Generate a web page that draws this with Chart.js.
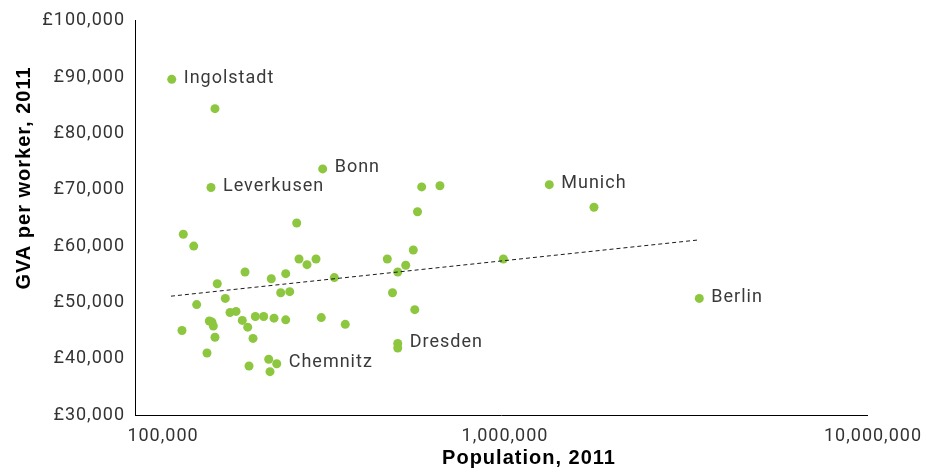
<!DOCTYPE html>
<html>
<head>
<meta charset="utf-8">
<script src="https://cdn.jsdelivr.net/npm/chart.js@4/dist/chart.umd.min.js"></script>
<style>
  html, body { margin: 0; padding: 0; background: #ffffff; }
  #wrap { width: 926px; height: 475px; }
</style>
</head>
<body>
<div id="wrap"><canvas id="chart" width="926" height="475"></canvas></div>
<script>
// German cities, 2011: population against gross value added per worker
const cityNames = [
  'Ingolstadt', '', 'Bonn', 'Leverkusen', '', '', 'Munich', '', '', '',
  '', '', '', '', '', '', '', '', '', '',
  '', '', '', '', '', '', '', '', '', '',
  '', 'Berlin', '', '', '', '', '', '', '', '',
  '', '', '', '', '', '', '', '', 'Dresden', '',
  '', '', 'Chemnitz', '', ''
];
const population = [
  126000, 165400, 325700, 161300, 607100, 681000, 1355000, 1795000, 591400, 276600,
  135500, 144700, 575900, 489000, 549100, 280600, 295100, 312300, 199800, 235700,
  258100, 350400, 522200, 1015000, 167800, 250100, 264700, 505300, 176500, 147400,
  581300, 3482000, 181800, 188800, 213200, 224700, 239800, 258100, 322800, 375400,
  196400, 203200, 159600, 162300, 163700, 134400, 165400, 210100, 522200, 522200,
  157300, 231900, 243900, 204900, 233800
];
const gvaPerWorker = [
  89600, 84400, 73700, 70400, 70500, 70700, 70900, 66900, 66100, 64100,
  62100, 60000, 59300, 57700, 56600, 57700, 56700, 57700, 55400, 54200,
  55100, 54400, 55400, 57700, 53300, 51700, 51900, 51700, 50700, 49600,
  48700, 50700, 48200, 48400, 47500, 47500, 47200, 46900, 47300, 46100,
  46800, 45600, 46700, 46500, 45800, 45000, 43800, 43600, 42700, 41900,
  41000, 39900, 39100, 38700, 37700
];
// Logarithmic trend line, drawn between its two end points
const trendPopulation = [125400, 3480000];
const trendGva = [51100, 61100];
// Axis ticks
const xTickValues = [100000, 1000000, 10000000];
const yTickValues = [30000, 40000, 50000, 60000, 70000, 80000, 90000, 100000];
const xAxisTitle = 'Population, 2011';
const yAxisTitle = 'GVA per worker, 2011';

const fmt = v => v.toLocaleString('en-GB');
const LABEL_FONT = '18px Roboto';
const TEXT_COLOR = '#3a3a3a';

const overlay = {
  id: 'overlay',
  beforeDraw(chart) {
    chart.ctx.letterSpacing = '1px';
  },
  afterDraw(chart) {
    const { ctx, scales: { x, y } } = chart;
    ctx.save();
    ctx.letterSpacing = '1px';

    // city name labels
    ctx.font = LABEL_FONT;
    ctx.fillStyle = TEXT_COLOR;
    ctx.textAlign = 'left';
    ctx.textBaseline = 'middle';
    cityNames.forEach((name, i) => {
      if (!name) return;
      const px = x.getPixelForValue(population[i]);
      const py = y.getPixelForValue(gvaPerWorker[i]);
      ctx.fillText(name, px + 12, py - 1);
    });

    // x tick labels
    ctx.fillStyle = '#333333';
    ctx.textAlign = 'center';
    const shifts = [28, 4, 6];
    xTickValues.forEach((v, i) => {
      ctx.fillText(fmt(v), x.getPixelForValue(v) + shifts[i], x.top + 21);
    });

    // axis titles
    ctx.fillStyle = '#000000';
    ctx.font = 'bold 20px "Liberation Sans", Arial, sans-serif';
    ctx.fillText(xAxisTitle, 529, 458);
    ctx.translate(24, 178);
    ctx.rotate(-Math.PI / 2);
    ctx.fillText(yAxisTitle, 0, 0);
    ctx.restore();
  }
};

new Chart(document.getElementById('chart'), {
  data: {
    datasets: [
      {
        type: 'scatter',
        label: 'Cities',
        data: population.map((p, i) => ({ x: p, y: gvaPerWorker[i] })),
        backgroundColor: '#8dc63f',
        borderWidth: 0,
        pointRadius: 4.5,
        pointHoverRadius: 4.5,
        order: 1
      },
      {
        type: 'line',
        label: 'Trend',
        data: trendPopulation.map((p, i) => ({ x: p, y: trendGva[i] })),
        borderColor: '#1a1a1a',
        borderWidth: 1,
        borderDash: [4, 3],
        pointRadius: 0,
        fill: false,
        order: 0
      }
    ]
  },
  options: {
    responsive: false,
    animation: false,
    devicePixelRatio: 1,
    layout: { padding: { top: 18, right: 59, left: 0, bottom: 0 } },
    plugins: { legend: { display: false }, tooltip: { enabled: false } },
    scales: {
      x: {
        type: 'logarithmic',
        min: xTickValues[0],
        max: xTickValues[xTickValues.length - 1],
        grid: { display: false, drawTicks: false },
        border: { display: true, color: '#000000', width: 1 },
        ticks: { display: false },
        afterBuildTicks: s => { s.ticks = xTickValues.map(v => ({ value: v })); },
        afterFit: s => { s.height = 60; }
      },
      y: {
        type: 'linear',
        min: yTickValues[0],
        max: yTickValues[yTickValues.length - 1],
        grid: { display: false, drawTicks: false },
        border: { display: true, color: '#000000', width: 1 },
        ticks: {
          padding: 10,
          color: '#333333',
          font: { family: 'Roboto', size: 18 },
          callback: v => '£' + fmt(v)
        },
        afterBuildTicks: s => { s.ticks = yTickValues.map(v => ({ value: v })); },
        afterFit: s => { s.width = 135; }
      }
    }
  },
  plugins: [overlay]
});
</script>
</body>
</html>
